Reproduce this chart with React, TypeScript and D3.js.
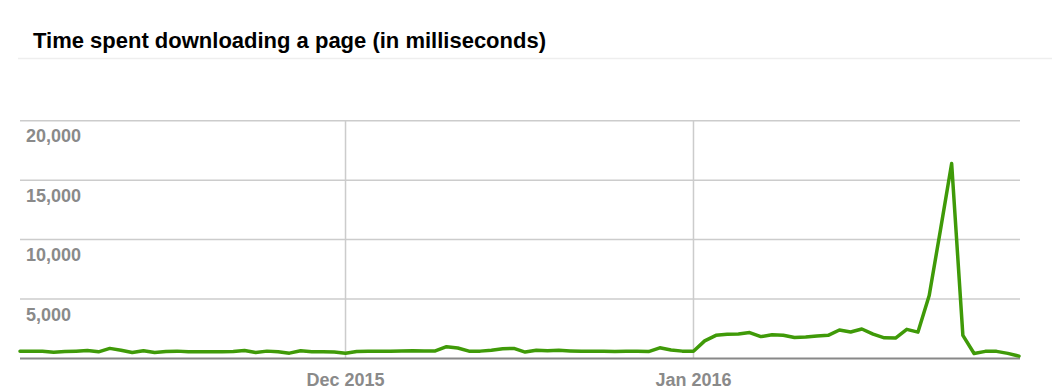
import React from "react";
import * as d3 from "d3";

const title = "Time spent downloading a page (in milliseconds)";
const startDate = "2015-11-02";
const values: number[] = [
  620, 620, 610, 530, 580, 620, 680, 560, 850, 700,
  500, 660, 500, 580, 620, 560, 560, 560, 570, 580,
  670, 500, 620, 560, 450, 650, 570, 560, 540, 450,
  580, 600, 600, 620, 640, 650, 630, 640, 990, 880,
  620, 620, 700, 820, 850, 540, 700, 660, 690, 640,
  600, 620, 600, 580, 600, 600, 580, 900, 720, 620,
  610, 1480, 1950, 2030, 2070, 2180, 1840, 1990, 1960, 1760,
  1800, 1900, 1950, 2400, 2230, 2480, 2050, 1740, 1720, 2450,
  2220, 5300, 10800, 16400, 1950, 420, 600, 600, 430, 200,
];
const yTicks = [5000, 10000, 15000, 20000];
const xTickDates = ["2015-12-01", "2016-01-01"];
const xTickLabels = ["Dec 2015", "Jan 2016"];

const parse = d3.utcParse("%Y-%m-%d");
const start = parse(startDate) as Date;
const data = values.map((v, i) => ({ date: d3.utcDay.offset(start, i), value: v }));

const W = 1052;
const H = 392;
const left = 20;
const right = 1019;
const top = 120.7;
const bottom = 358.5;
const font = "'Liberation Sans', Arial, Helvetica, sans-serif";

export default function App() {
  const x = d3
    .scaleUtc()
    .domain(d3.extent(data, (d) => d.date) as [Date, Date])
    .range([left, right]);
  const y = d3.scaleLinear().domain([0, 20000]).range([bottom, top]);
  const line = d3
    .line<{ date: Date; value: number }>()
    .x((d) => x(d.date))
    .y((d) => y(d.value));
  const fmt = d3.format(",");

  return (
    <svg
      width={W}
      height={H}
      style={{ position: "absolute", left: 0, top: 0, background: "#fff" }}
      fontFamily={font}
    >
      <rect width={W} height={H} fill="#fff" />
      <text x={33} y={47.5} fontSize={22} fontWeight="bold" fill="#000">
        {title}
      </text>
      <line x1={18} x2={W} y1={58.5} y2={58.5} stroke="#eeeeee" strokeWidth={1.5} />
      {yTicks.map((t) => (
        <g key={t}>
          <line x1={left} x2={1020} y1={y(t)} y2={y(t)} stroke="#cccccc" strokeWidth={1.5} />
          <text x={26} y={y(t) + 21.5} fontSize={18} fontWeight="bold" fill="#8a8a8a">
            {fmt(t)}
          </text>
        </g>
      ))}
      {xTickDates.map((d, i) => {
        const xx = x(parse(d) as Date);
        return (
          <g key={d}>
            <line x1={xx} x2={xx} y1={top} y2={bottom} stroke="#cccccc" strokeWidth={1.5} />
            <text
              x={xx}
              y={386}
              fontSize={18}
              fontWeight="bold"
              fill="#8a8a8a"
              textAnchor="middle"
            >
              {xTickLabels[i]}
            </text>
          </g>
        );
      })}
      <line x1={left} x2={1020} y1={bottom} y2={bottom} stroke="#888888" strokeWidth={2} />
      <path
        d={line(data) || ""}
        fill="none"
        stroke="#3f9a08"
        strokeWidth={3.5}
        strokeLinejoin="round"
        strokeLinecap="round"
      />
    </svg>
  );
}
